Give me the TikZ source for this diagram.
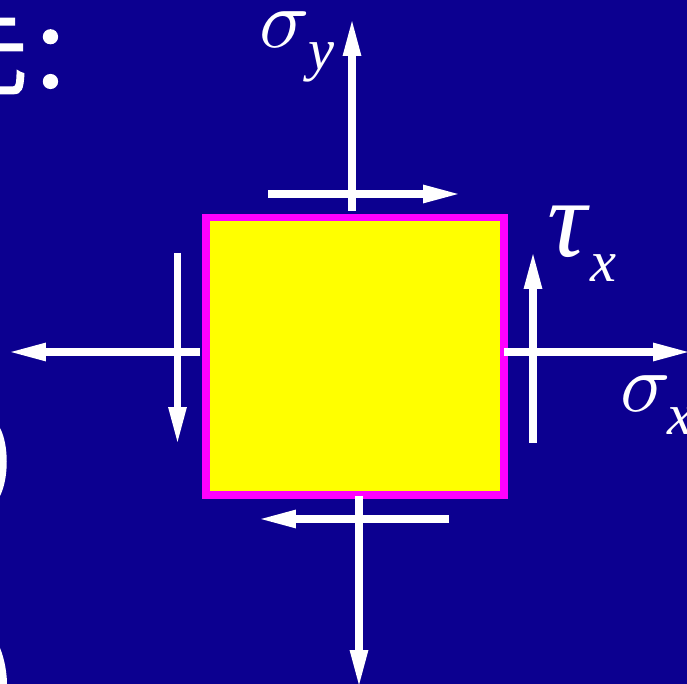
\documentclass[tikz,border=0pt]{standalone}
\usepackage{fontspec}
\setmainfont{Liberation Serif}
\newfontfamily\cjk[AutoFakeBold=1.5]{Noto Sans CJK SC}
\usetikzlibrary{arrows.meta}
\definecolor{bgblue}{RGB}{12,0,144}
\definecolor{elemfill}{RGB}{255,255,0}
\definecolor{elemedge}{RGB}{255,0,255}

\begin{document}
\begin{tikzpicture}[x=0.03cm,y=-0.03cm,>={Triangle[length=34pt,width=13.6pt]},
  load/.style={white,line width=6.8pt,->},
  lbl/.style={white,inner sep=0pt,anchor=base west},
  sym/.style={lbl,scale=7.1},
  sub/.style={lbl,font=\itshape\fontsize{50pt}{50pt}\selectfont}]
\useasboundingbox (0,0) rectangle (687,684);
\clip (0,0) rectangle (687,684);
\fill[bgblue] (0,0) rectangle (687,684);
% pieces of the slide text cut by the edge
\node (title) [lbl,font=\cjk\bfseries\fontsize{78pt}{78pt}\selectfont] at (-64,88) {元：};
\fill[white] (0,428) .. controls (9,445) and (9,478) .. (0,496) -- cycle;
\fill[white] (0,648) .. controls (5,660) and (7,675) .. (7,684) -- (0,684) -- cycle;
% element
\node (elem) [draw=elemedge,fill=elemfill,line width=6.8pt,inner sep=0pt,
  minimum width=8.94cm,minimum height=8.325cm] at (355,356.25) {};
% normal stresses
\draw[load] (352,211) -- (352,16);
\draw[load] (359,496) -- (359,690);
\draw[load] (200,352) -- (6,352);
\draw[load] (504,352) -- (693,352);
% shear stresses
\draw[load] (268,194) -- (463,194);
\draw[load] (449,519) -- (256,519);
\draw[load] (177.5,253) -- (177.5,447);
\draw[load] (533,443) -- (533,249);
% labels
\node (sy) [sym] at (258,48) {$\sigma$};
\node (sysub) [sub] at (308,70) {y};
\node (tx) [lbl,font=\itshape\fontsize{94pt}{94pt}\selectfont] at (547,257) {τ};
\node (txsub) [sub] at (590,282) {x};
\node (sx) [sym] at (619,412) {$\sigma$};
\node (sxsub) [sub] at (667,435) {x};
\end{tikzpicture}
\end{document}
